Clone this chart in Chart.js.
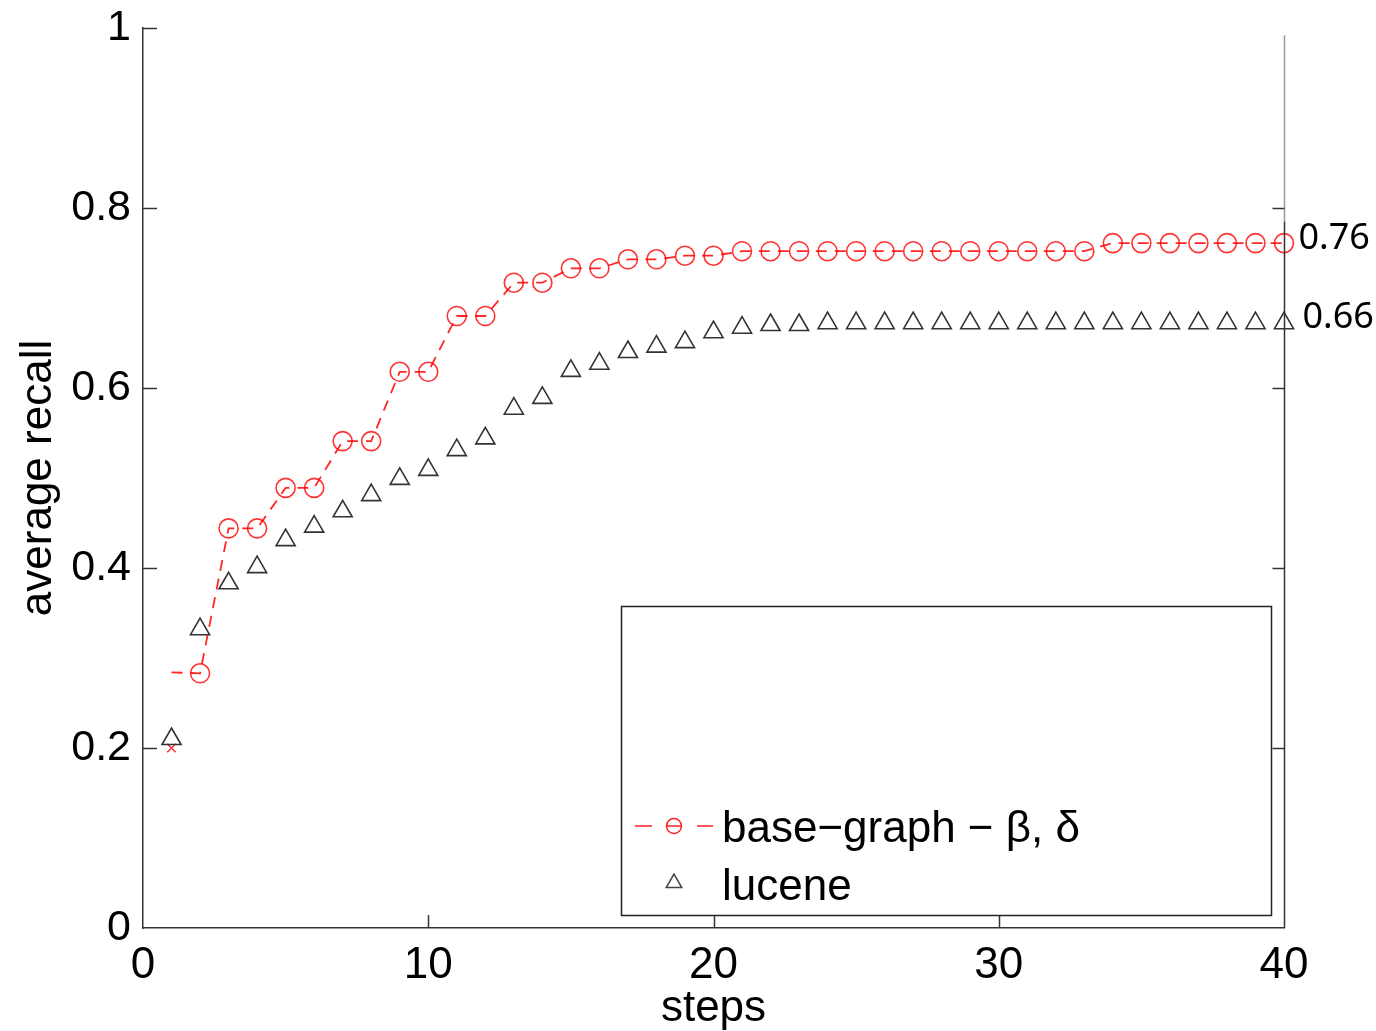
<!DOCTYPE html>
<html>
<head>
<meta charset="utf-8">
<script src="https://cdn.jsdelivr.net/npm/chart.js@4/dist/chart.umd.min.js"></script>
<style>
  html, body { margin: 0; padding: 0; background: #fff; }
  #wrap { width: 1376px; height: 1031px; }
</style>
</head>
<body>
<div id="wrap"><canvas id="recallChart" width="1376" height="1031"></canvas></div>
<script>
// values
const steps = [1, 2, 3, 4, 5, 6, 7, 8, 9, 10, 11, 12, 13, 14, 15, 16, 17, 18, 19, 20,
  21, 22, 23, 24, 25, 26, 27, 28, 29, 30, 31, 32, 33, 34, 35, 36, 37, 38, 39, 40];
const baseGraph = [0.284, 0.283, 0.444, 0.444, 0.489, 0.489, 0.541, 0.541, 0.618, 0.618,
  0.680, 0.680, 0.717, 0.717, 0.733, 0.733, 0.743, 0.743, 0.747, 0.747,
  0.752, 0.752, 0.752, 0.752, 0.752, 0.752, 0.752, 0.752, 0.752, 0.752,
  0.752, 0.752, 0.752, 0.761, 0.761, 0.761, 0.761, 0.761, 0.761, 0.761];
const lucene = [0.210, 0.332, 0.383, 0.401, 0.431, 0.446, 0.463, 0.481, 0.499, 0.509,
  0.531, 0.544, 0.577, 0.589, 0.619, 0.627, 0.640, 0.646, 0.651, 0.662,
  0.667, 0.670, 0.670, 0.672, 0.672, 0.672, 0.672, 0.672, 0.672, 0.672,
  0.672, 0.672, 0.672, 0.672, 0.672, 0.672, 0.672, 0.672, 0.672, 0.672];
const strayX = [1];
const strayY = [0.2];
const xTicks = [0, 10, 20, 30, 40];
const yTicks = [0, 0.2, 0.4, 0.6, 0.8, 1];
const endLabels = ["0.76", "0.66"];
const legendLabels = ["base\u2212graph \u2212 \u03b2, \u03b4", "lucene"];

const FONT = "'Liberation Sans', Arial, sans-serif";

function toPoints(xs, ys) {
  return xs.map((x, i) => ({ x: x, y: ys[i] }));
}

// axes frame, inward ticks, legend box and end labels
const framePlugin = {
  id: "frame",
  afterDraw(chart) {
    const ctx = chart.ctx;
    const xs = chart.scales.x;
    const ys = chart.scales.y;
    const area = chart.chartArea;
    ctx.save();
    ctx.lineWidth = 1.5;
    ctx.strokeStyle = "#333";
    // left ticks
    yTicks.forEach(v => {
      if (v === 0) return;
      const py = Math.round(ys.getPixelForValue(v)) + 0.5;
      ctx.beginPath();
      ctx.moveTo(area.left, py);
      ctx.lineTo(area.left + 14, py);
      ctx.stroke();
    });
    // bottom ticks
    xTicks.forEach(v => {
      if (v === 0 || v === 40) return;
      const px = Math.round(xs.getPixelForValue(v)) + 0.5;
      ctx.beginPath();
      ctx.moveTo(px, area.bottom);
      ctx.lineTo(px, area.bottom - 13);
      ctx.stroke();
    });
    // right border
    const rx = Math.round(xs.getPixelForValue(40)) + 0.5;
    ctx.strokeStyle = "#999";
    ctx.beginPath();
    ctx.moveTo(rx, ys.getPixelForValue(0.992));
    ctx.lineTo(rx, ys.getPixelForValue(0.785));
    ctx.stroke();
    ctx.strokeStyle = "#333";
    ctx.beginPath();
    ctx.moveTo(rx, ys.getPixelForValue(0.785));
    ctx.lineTo(rx, area.bottom);
    ctx.stroke();
    yTicks.forEach(v => {
      if (v === 0 || v === 1) return;
      const py = Math.round(ys.getPixelForValue(v)) + 0.5;
      ctx.beginPath();
      ctx.moveTo(rx, py);
      ctx.lineTo(rx - 12, py);
      ctx.stroke();
    });

    // legend
    const lx = 621.5, ly = 606.5, lw = 650, lh = 309;
    ctx.fillStyle = "#fff";
    ctx.fillRect(lx, ly, lw, lh);
    ctx.strokeStyle = "#222";
    ctx.lineWidth = 1.5;
    ctx.strokeRect(lx, ly, lw, lh);
    ctx.strokeStyle = "#ff2020";
    ctx.lineWidth = 1.5;
    ctx.beginPath();
    ctx.moveTo(635, 826); ctx.lineTo(652, 826);
    ctx.moveTo(697, 826); ctx.lineTo(713, 826);
    ctx.moveTo(667, 826); ctx.lineTo(681, 826);
    ctx.stroke();
    ctx.beginPath();
    ctx.arc(674, 826, 7.5, 0, Math.PI * 2);
    ctx.stroke();
    ctx.strokeStyle = "#444";
    ctx.beginPath();
    const tr = 9;
    ctx.moveTo(674, 883 - tr);
    ctx.lineTo(674 + tr * 0.866, 883 + tr * 0.5);
    ctx.lineTo(674 - tr * 0.866, 883 + tr * 0.5);
    ctx.closePath();
    ctx.stroke();
    ctx.fillStyle = "#000";
    ctx.font = "44px " + FONT;
    ctx.textBaseline = "alphabetic";
    ctx.textAlign = "left";
    ctx.fillText(legendLabels[0], 722, 842);
    ctx.fillText(legendLabels[1], 722, 900);

    // end labels
    ctx.font = "36px 'Noto Sans', sans-serif";
    ctx.textBaseline = "middle";
    ctx.fillText(endLabels[0], rx + 14, ys.getPixelForValue(baseGraph[39]) - 4);
    ctx.fillText(endLabels[1], rx + 18, ys.getPixelForValue(lucene[39]) - 5);
    ctx.restore();
  }
};

const ctx = document.getElementById("recallChart").getContext("2d");
const recallChart = new Chart(ctx, {
  type: "line",
  data: {
    datasets: [
      {
        label: legendLabels[0],
        data: toPoints(steps, baseGraph),
        borderColor: "rgba(255,0,0,0.85)",
        borderWidth: 1.8,
        borderDash: [11, 8],
        pointStyle: "circle",
        pointRadius: steps.map((s, i) => (i === 0 ? 0 : 9.5)),
        pointBorderColor: "rgba(255,0,0,0.8)",
        pointBorderWidth: 1.6,
        pointBackgroundColor: "rgba(0,0,0,0)",
        tension: 0,
        clip: false
      },
      {
        label: legendLabels[1],
        data: toPoints(steps, lucene),
        showLine: false,
        pointStyle: "triangle",
        pointRadius: 11,
        pointBorderColor: "#333",
        pointBorderWidth: 1.6,
        pointBackgroundColor: "rgba(0,0,0,0)",
        clip: false
      },
      {
        label: "stray",
        data: toPoints(strayX, strayY),
        showLine: false,
        pointStyle: "crossRot",
        pointRadius: 6,
        pointBorderColor: "#ff3030",
        pointBorderWidth: 1.5,
        clip: false
      }
    ]
  },
  options: {
    responsive: false,
    animation: false,
    devicePixelRatio: 1,
    layout: { padding: { top: 28, right: 92, left: 0, bottom: 0 } },
    plugins: {
      legend: { display: false },
      tooltip: { enabled: false }
    },
    scales: {
      x: {
        type: "linear",
        min: 0,
        max: 40,
        afterFit: s => { s.height = 103; s.paddingLeft = 0; s.paddingRight = 0; },
        afterBuildTicks: s => { s.ticks = xTicks.map(v => ({ value: v })); },
        grid: { display: false, drawTicks: false },
        border: { display: true, color: "#333", width: 1.5 },
        ticks: { color: "#000", font: { family: FONT, size: 44 }, padding: 11, maxRotation: 0 },
        title: { display: true, text: "steps", color: "#000", font: { family: FONT, size: 44, lineHeight: 1.0 }, padding: { top: 0, bottom: 0 } }
      },
      y: {
        min: 0,
        max: 1,
        afterFit: s => { s.width = 143; s.paddingTop = 0; s.paddingBottom = 0; },
        afterBuildTicks: s => { s.ticks = yTicks.map(v => ({ value: v })); },
        grid: { display: false, drawTicks: false },
        border: { display: true, color: "#333", width: 1.5 },
        ticks: {
          color: "#000",
          font: { family: FONT, size: 43 },
          padding: 12,
          callback: v => String(+v.toFixed(1))
        },
        title: { display: true, text: "average recall", color: "#000", font: { family: FONT, size: 44 }, padding: { top: 12, bottom: 0 } }
      }
    }
  },
  plugins: [framePlugin]
});
</script>
</body>
</html>
